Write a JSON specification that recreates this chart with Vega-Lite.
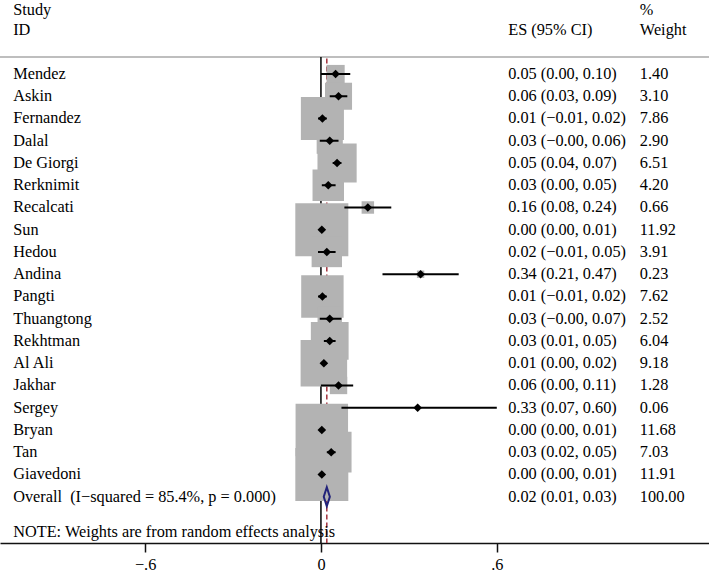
{
  "$schema": "https://vega.github.io/schema/vega-lite/v6.json",
  "width": 709,
  "height": 543,
  "autosize": {"type": "none"},
  "padding": {"left": 0, "right": 0, "top": 0, "bottom": 29},
  "background": "white",
  "config": {"view": {"stroke": null}, "font": "Liberation Serif", "text": {"font": "Liberation Serif", "fontSize": 16.3, "color": "#000"}},
  "datasets": {
    "studies": [
      {"study": "Mendez", "es": 0.05, "lo": 0.00, "hi": 0.10, "weight": 1.40, "ci": "0.05 (0.00, 0.10)", "wt": "1.40", "row": 1},
      {"study": "Askin", "es": 0.06, "lo": 0.03, "hi": 0.09, "weight": 3.10, "ci": "0.06 (0.03, 0.09)", "wt": "3.10", "row": 2},
      {"study": "Fernandez", "es": 0.005, "lo": -0.01, "hi": 0.02, "weight": 7.86, "ci": "0.01 (−0.01, 0.02)", "wt": "7.86", "row": 3},
      {"study": "Dalal", "es": 0.03, "lo": -0.004, "hi": 0.06, "weight": 2.90, "ci": "0.03 (−0.00, 0.06)", "wt": "2.90", "row": 4},
      {"study": "De Giorgi", "es": 0.055, "lo": 0.04, "hi": 0.07, "weight": 6.51, "ci": "0.05 (0.04, 0.07)", "wt": "6.51", "row": 5},
      {"study": "Rerknimit", "es": 0.025, "lo": 0.003, "hi": 0.05, "weight": 4.20, "ci": "0.03 (0.00, 0.05)", "wt": "4.20", "row": 6},
      {"study": "Recalcati", "es": 0.16, "lo": 0.08, "hi": 0.24, "weight": 0.66, "ci": "0.16 (0.08, 0.24)", "wt": "0.66", "row": 7},
      {"study": "Sun", "es": 0.003, "lo": 0.0, "hi": 0.01, "weight": 11.92, "ci": "0.00 (0.00, 0.01)", "wt": "11.92", "row": 8},
      {"study": "Hedou", "es": 0.02, "lo": -0.01, "hi": 0.05, "weight": 3.91, "ci": "0.02 (−0.01, 0.05)", "wt": "3.91", "row": 9},
      {"study": "Andina", "es": 0.34, "lo": 0.21, "hi": 0.47, "weight": 0.23, "ci": "0.34 (0.21, 0.47)", "wt": "0.23", "row": 10},
      {"study": "Pangti", "es": 0.005, "lo": -0.01, "hi": 0.02, "weight": 7.62, "ci": "0.01 (−0.01, 0.02)", "wt": "7.62", "row": 11},
      {"study": "Thuangtong", "es": 0.03, "lo": -0.004, "hi": 0.07, "weight": 2.52, "ci": "0.03 (−0.00, 0.07)", "wt": "2.52", "row": 12},
      {"study": "Rekhtman", "es": 0.03, "lo": 0.01, "hi": 0.05, "weight": 6.04, "ci": "0.03 (0.01, 0.05)", "wt": "6.04", "row": 13},
      {"study": "Al Ali", "es": 0.01, "lo": 0.0, "hi": 0.02, "weight": 9.18, "ci": "0.01 (0.00, 0.02)", "wt": "9.18", "row": 14},
      {"study": "Jakhar", "es": 0.06, "lo": 0.0, "hi": 0.11, "weight": 1.28, "ci": "0.06 (0.00, 0.11)", "wt": "1.28", "row": 15},
      {"study": "Sergey", "es": 0.33, "lo": 0.07, "hi": 0.60, "weight": 0.06, "ci": "0.33 (0.07, 0.60)", "wt": "0.06", "row": 16},
      {"study": "Bryan", "es": 0.003, "lo": 0.0, "hi": 0.01, "weight": 11.68, "ci": "0.00 (0.00, 0.01)", "wt": "11.68", "row": 17},
      {"study": "Tan", "es": 0.035, "lo": 0.02, "hi": 0.05, "weight": 7.03, "ci": "0.03 (0.02, 0.05)", "wt": "7.03", "row": 18},
      {"study": "Giavedoni", "es": 0.003, "lo": 0.0, "hi": 0.01, "weight": 11.91, "ci": "0.00 (0.00, 0.01)", "wt": "11.91", "row": 19}
    ],
    "overall": [
      {"study": "Overall\u00a0 (I−squared = 85.4%, p = 0.000)", "es": 0.02, "lo": 0.01, "hi": 0.03, "ci": "0.02 (0.01, 0.03)", "wt": "100.00", "row": 20}
    ],
    "headA": [
      {"t": "Study", "row": -1.88},
      {"t": "ID", "row": -0.978},
      {"t": "NOTE: Weights are from random effects analysis", "row": 21.57}
    ],
    "headB": [
      {"t": "ES (95% CI)", "row": -0.978}
    ],
    "headC": [
      {"t": "%", "row": -1.88},
      {"t": "Weight", "row": -0.978}
    ]
  },
  "layer": [
    {
      "data": {"values": [{}]},
      "mark": {"type": "rule", "color": "#a8a8a8", "strokeWidth": 1.5},
      "encoding": {
        "y": {"datum": 0.236, "type": "quantitative", "scale": {"domain": [-2.326, 22.08], "reverse": true}, "axis": null}
      }
    },
    {
      "data": {"values": [{}]},
      "mark": {"type": "rule", "color": "#000", "strokeWidth": 1.5},
      "encoding": {
        "x": {"datum": 0, "type": "quantitative", "scale": {"domain": [-1.095, 1.324]},
          "axis": {"values": [-0.6, 0, 0.6], "labelExpr": "datum.value == 0 ? '0' : (datum.value < 0 ? '−' : '') + replace(format(abs(datum.value), '.1f'), '0.', '.')",
            "domainColor": "#111", "domainWidth": 1.5, "tickColor": "#111", "tickWidth": 1.5, "tickSize": 9,
            "labelFont": "Liberation Serif", "labelFontSize": 16.3, "labelColor": "#000", "labelPadding": 4, "grid": false, "title": null, "labelFlush": false}},
        "y": {"datum": 0.236, "type": "quantitative", "scale": {"domain": [-2.326, 22.08], "reverse": true}, "axis": null},
        "y2": {"datum": 22.08}
      }
    },
    {
      "data": {"values": [{}]},
      "mark": {"type": "rule", "color": "#a3323c", "strokeWidth": 1.5, "strokeDash": [5, 3]},
      "encoding": {
        "x": {"datum": 0.02, "type": "quantitative", "scale": {"domain": [-1.095, 1.324]}},
        "y": {"datum": 0.3, "type": "quantitative", "scale": {"domain": [-2.326, 22.08], "reverse": true}, "axis": null},
        "y2": {"datum": 22.08}
      }
    },
    {
      "data": {"name": "studies"},
      "mark": {"type": "point", "shape": "square", "filled": true, "color": "#b3b3b3", "opacity": 1},
      "encoding": {
        "x": {"field": "es", "type": "quantitative", "scale": {"domain": [-1.095, 1.324]}},
        "y": {"field": "row", "type": "quantitative", "scale": {"domain": [-2.326, 22.08], "reverse": true}, "axis": null},
        "size": {"field": "weight", "type": "quantitative", "scale": {"domain": [0, 12], "range": [0, 2830]}, "legend": null}
      }
    },
    {
      "data": {"name": "studies"},
      "mark": {"type": "rule", "color": "#000", "strokeWidth": 2},
      "encoding": {
        "x": {"field": "lo", "type": "quantitative", "scale": {"domain": [-1.095, 1.324]}},
        "x2": {"field": "hi"},
        "y": {"field": "row", "type": "quantitative", "scale": {"domain": [-2.326, 22.08], "reverse": true}, "axis": null}
      }
    },
    {
      "data": {"name": "studies"},
      "mark": {"type": "point", "shape": "diamond", "filled": true, "color": "#000", "opacity": 1, "size": 75},
      "encoding": {
        "x": {"field": "es", "type": "quantitative", "scale": {"domain": [-1.095, 1.324]}},
        "y": {"field": "row", "type": "quantitative", "scale": {"domain": [-2.326, 22.08], "reverse": true}, "axis": null}
      }
    },
    {
      "data": {"name": "overall"},
      "mark": {"type": "point", "shape": "M0,-1L0.32,0L0,1L-0.32,0Z", "filled": false, "color": "#22237a", "strokeWidth": 2, "opacity": 1, "size": 361},
      "encoding": {
        "x": {"field": "es", "type": "quantitative", "scale": {"domain": [-1.095, 1.324]}},
        "y": {"field": "row", "type": "quantitative", "scale": {"domain": [-2.326, 22.08], "reverse": true}, "axis": null}
      }
    },
    {
      "data": {"name": "studies"},
      "mark": {"type": "text", "align": "left", "baseline": "middle"},
      "encoding": {
        "x": {"datum": -1.05, "type": "quantitative", "scale": {"domain": [-1.095, 1.324]}},
        "y": {"field": "row", "type": "quantitative", "scale": {"domain": [-2.326, 22.08], "reverse": true}, "axis": null},
        "text": {"field": "study"}
      }
    },
    {
      "data": {"name": "studies"},
      "mark": {"type": "text", "align": "left", "baseline": "middle"},
      "encoding": {
        "x": {"datum": 0.639, "type": "quantitative", "scale": {"domain": [-1.095, 1.324]}},
        "y": {"field": "row", "type": "quantitative", "scale": {"domain": [-2.326, 22.08], "reverse": true}, "axis": null},
        "text": {"field": "ci"}
      }
    },
    {
      "data": {"name": "studies"},
      "mark": {"type": "text", "align": "left", "baseline": "middle"},
      "encoding": {
        "x": {"datum": 1.088, "type": "quantitative", "scale": {"domain": [-1.095, 1.324]}},
        "y": {"field": "row", "type": "quantitative", "scale": {"domain": [-2.326, 22.08], "reverse": true}, "axis": null},
        "text": {"field": "wt"}
      }
    },
    {
      "data": {"name": "overall"},
      "mark": {"type": "text", "align": "left", "baseline": "middle"},
      "encoding": {
        "x": {"datum": -1.05, "type": "quantitative", "scale": {"domain": [-1.095, 1.324]}},
        "y": {"field": "row", "type": "quantitative", "scale": {"domain": [-2.326, 22.08], "reverse": true}, "axis": null},
        "text": {"field": "study"}
      }
    },
    {
      "data": {"name": "overall"},
      "mark": {"type": "text", "align": "left", "baseline": "middle"},
      "encoding": {
        "x": {"datum": 0.639, "type": "quantitative", "scale": {"domain": [-1.095, 1.324]}},
        "y": {"field": "row", "type": "quantitative", "scale": {"domain": [-2.326, 22.08], "reverse": true}, "axis": null},
        "text": {"field": "ci"}
      }
    },
    {
      "data": {"name": "overall"},
      "mark": {"type": "text", "align": "left", "baseline": "middle"},
      "encoding": {
        "x": {"datum": 1.088, "type": "quantitative", "scale": {"domain": [-1.095, 1.324]}},
        "y": {"field": "row", "type": "quantitative", "scale": {"domain": [-2.326, 22.08], "reverse": true}, "axis": null},
        "text": {"field": "wt"}
      }
    },
    {
      "data": {"name": "headA"},
      "mark": {"type": "text", "align": "left", "baseline": "middle"},
      "encoding": {
        "x": {"datum": -1.05, "type": "quantitative", "scale": {"domain": [-1.095, 1.324]}},
        "y": {"field": "row", "type": "quantitative", "scale": {"domain": [-2.326, 22.08], "reverse": true}, "axis": null},
        "text": {"field": "t"}
      }
    },
    {
      "data": {"name": "headB"},
      "mark": {"type": "text", "align": "left", "baseline": "middle"},
      "encoding": {
        "x": {"datum": 0.639, "type": "quantitative", "scale": {"domain": [-1.095, 1.324]}},
        "y": {"field": "row", "type": "quantitative", "scale": {"domain": [-2.326, 22.08], "reverse": true}, "axis": null},
        "text": {"field": "t"}
      }
    },
    {
      "data": {"name": "headC"},
      "mark": {"type": "text", "align": "left", "baseline": "middle"},
      "encoding": {
        "x": {"datum": 1.088, "type": "quantitative", "scale": {"domain": [-1.095, 1.324]}},
        "y": {"field": "row", "type": "quantitative", "scale": {"domain": [-2.326, 22.08], "reverse": true}, "axis": null},
        "text": {"field": "t"}
      }
    }
  ]
}
